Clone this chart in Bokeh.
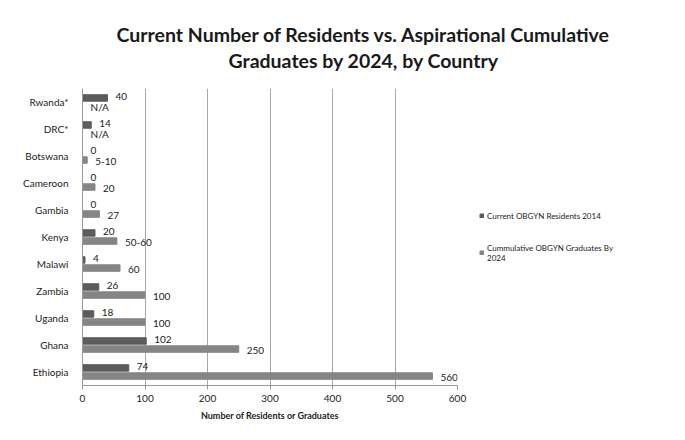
from bokeh.plotting import figure
from bokeh.models import ColumnDataSource, LabelSet, FactorRange, Title, Legend, LegendItem
from bokeh.transform import dodge
from bokeh.core.properties import value
from bokeh.embed import file_html
from bokeh.resources import INLINE

countries = ["Ethiopia", "Ghana", "Uganda", "Zambia", "Malawi", "Kenya",
             "Gambia", "Cameroon", "Botswana", "DRC*", "Rwanda*"]
residents_2014 = [74, 102, 18, 26, 4, 20, 0, 0, 0, 14, 40]
residents_labels = ["74", "102", "18", "26", "4", "20", "0", "0", "0", "14", "40"]
graduates_2024 = [560, 250, 100, 100, 60, 55, 27, 20, 7.5, 0, 0]
graduates_labels = ["560", "250", "100", "100", "60", "50-60", "27", "20", "5-10", "N/A", "N/A"]
x_ticks = [0, 100, 200, 300, 400, 500, 600]

title_lines = ["Current Number of Residents vs. Aspirational Cumulative",
               "Graduates by 2024, by Country"]
legend_names = ["Current OBGYN Residents 2014", "Cummulative OBGYN Graduates By\n2024"]

src = ColumnDataSource(dict(country=countries, res=residents_2014, res_lab=residents_labels,
                            grad=graduates_2024, grad_lab=graduates_labels))

FONT = "Lato"
RES_COLOR = "#5c5c5c"
GRAD_COLOR = "#858585"

p = figure(width=685, height=440, frame_width=375, frame_height=297,
           output_backend="svg", toolbar_location=None,
           y_range=FactorRange(*countries), x_range=(0, 600),
           min_border_left=82, min_border_right=228, min_border_top=88, min_border_bottom=55)
p.outline_line_color = None
p.background_fill_color = "white"

r_res = p.hbar(y=dodge("country", 0.15, range=p.y_range), right="res", left=0, height=0.24,
               source=src, color=RES_COLOR)
r_grad = p.hbar(y=dodge("country", -0.15, range=p.y_range), right="grad", left=0, height=0.24,
                source=src, color=GRAD_COLOR)

p.add_layout(LabelSet(x="res", y=dodge("country", 0.2, range=p.y_range), text="res_lab",
                      source=src, x_offset=8, text_baseline="middle",
                      text_font=value(FONT), text_font_size="10px", text_color="#222222"))
p.add_layout(LabelSet(x="grad", y=dodge("country", -0.2, range=p.y_range), text="grad_lab",
                      source=src, x_offset=8, text_baseline="middle",
                      text_font=value(FONT), text_font_size="10px", text_color="#222222"))

p.xaxis.ticker = x_ticks
p.xaxis.axis_label = "Number of Residents or Graduates"
p.xaxis.axis_label_text_font = FONT
p.xaxis.axis_label_text_font_style = "bold"
p.xaxis.axis_label_text_font_size = "9px"
p.xaxis.axis_label_text_color = "#222222"
p.xaxis.axis_label_standoff = 5
p.xaxis.major_label_text_font = FONT
p.xaxis.major_label_text_font_size = "10px"
p.xaxis.major_label_text_color = "#222222"
p.xaxis.major_label_standoff = 5
p.xaxis.major_tick_out = 4
p.xaxis.major_tick_in = 0
p.xaxis.minor_tick_line_color = None
p.xaxis.axis_line_color = "#999999"
p.xaxis.major_tick_line_color = "#999999"

p.yaxis.major_label_text_font = FONT
p.yaxis.major_label_text_font_size = "10px"
p.yaxis.major_label_text_color = "#222222"
p.yaxis.major_tick_line_color = None
p.yaxis.axis_line_color = "#999999"
p.yaxis.major_label_standoff = 8

p.ygrid.grid_line_color = None
p.xgrid.grid_line_color = "#a8a8a8"
p.xgrid.grid_line_width = 1

# Title: spacer (closest to frame), then line 2, then line 1
p.add_layout(Title(text=" ", text_font_size="1px", standoff=12), "above")
p.add_layout(Title(text=title_lines[1], align="left", offset=146,
                   text_font=FONT, text_font_style="bold", text_font_size="19.5px",
                   text_line_height=1.0, text_color="#1a1a1a", standoff=3), "above")
p.add_layout(Title(text=title_lines[0], align="left", offset=34,
                   text_font=FONT, text_font_style="bold", text_font_size="19.5px",
                   text_line_height=1.0, text_color="#1a1a1a", standoff=0), "above")

legend = Legend(items=[LegendItem(label=legend_names[0], renderers=[r_res]),
                       LegendItem(label=legend_names[1], renderers=[r_grad])],
                location="left", orientation="vertical",
                label_text_font=FONT, label_text_font_size="8px", label_text_color="#222222",
                glyph_width=5, glyph_height=5, label_standoff=3, spacing=22,
                padding=0, margin=22, border_line_color=None, background_fill_alpha=0)
p.add_layout(legend, "right")

open("out.html", "w").write(file_html(p, INLINE))
